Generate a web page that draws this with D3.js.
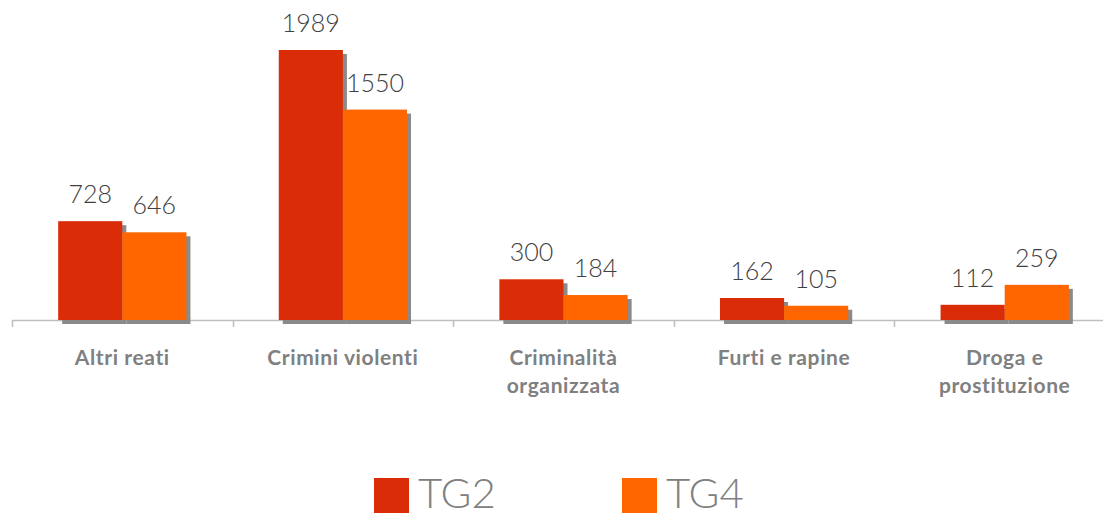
<!DOCTYPE html>
<html>
<head>
<meta charset="utf-8">
<title>TG2 vs TG4</title>
<style>
  body { margin: 0; background: #fff; }
  svg { display: block; }
  .value { font-family: "Lato", "Open Sans", sans-serif; font-weight: 300; fill: #404040; }
  .cat { font-family: "Lato", "Open Sans", sans-serif; font-weight: 700; fill: #808080; letter-spacing: 0.6px; }
  .legend text { font-family: "Lato", "Open Sans", sans-serif; font-weight: 300; fill: #808080; }
</style>
</head>
<body>
<svg width="1103" height="517"></svg>
<script src="https://d3js.org/d3.v7.min.js"></script>
<script>
// categories and series
const categories = [
  ["Altri reati"],
  ["Crimini violenti"],
  ["Criminalità", "organizzata"],
  ["Furti e rapine"],
  ["Droga e", "prostituzione"]
];
const seriesNames = ["TG2", "TG4"];
const tg2 = [728, 1989, 300, 162, 112];
const tg4 = [646, 1550, 184, 105, 259];
const colors = ["#DA2D07", "#FF6600"];

const svg = d3.select('svg');
const baseY = 320;

const x = d3.scaleBand()
  .domain(d3.range(categories.length))
  .range([12, 1115])
  .paddingInner(0)
  .paddingOuter(0);

const x1 = d3.scaleBand()
  .domain(seriesNames)
  .range([0, x.bandwidth()])
  .paddingInner(0)
  .paddingOuter(0.72);

const y = d3.scaleLinear()
  .domain([0, 1989])
  .range([baseY, 50]);

const rows = categories.map((c, i) => ({ i, vals: [tg2[i], tg4[i]] }));

// axis line and ticks
const axis = svg.append('g');
axis.append('line')
  .attr('x1', 12).attr('x2', 1103)
  .attr('y1', baseY + 0.5).attr('y2', baseY + 0.5)
  .attr('stroke', '#bfbfbf').attr('stroke-width', 1.5);
d3.range(categories.length + 1).forEach(i => {
  const tx = Math.round(12 + i * x.bandwidth()) + 0.5;
  axis.append('line')
    .attr('x1', tx).attr('x2', tx)
    .attr('y1', baseY).attr('y2', baseY + 7)
    .attr('stroke', '#bfbfbf').attr('stroke-width', 1.5);
});

const groups = svg.selectAll('g.cat-group')
  .data(rows)
  .join('g')
  .attr('class', 'cat-group')
  .attr('transform', d => `translate(${x(d.i)},0)`);

const bars = groups.selectAll('g.bar')
  .data(d => d.vals.map((v, k) => ({ v, k, name: seriesNames[k] })))
  .join('g')
  .attr('class', 'bar');

// shadows first
bars.append('rect')
  .attr('x', d => x1(d.name) + 4)
  .attr('y', d => y(d.v) + 4)
  .attr('width', x1.bandwidth())
  .attr('height', d => baseY - y(d.v))
  .attr('fill', '#8a8a8a');

bars.append('rect')
  .attr('x', d => x1(d.name))
  .attr('y', d => y(d.v))
  .attr('width', x1.bandwidth())
  .attr('height', d => baseY - y(d.v))
  .attr('fill', d => colors[d.k]);

// value labels
bars.append('text')
  .attr('class', 'value')
  .attr('x', d => x1(d.name) + x1.bandwidth() / 2)
  .attr('y', d => y(d.v) - 18)
  .attr('text-anchor', 'middle')
  .attr('font-size', 25)
  .text(d => d.v);

// category labels
groups.append('text')
  .attr('class', 'cat')
  .attr('text-anchor', 'middle')
  .attr('font-size', 21)
  .selectAll('tspan')
  .data((d) => categories[d.i])
  .join('tspan')
  .attr('x', x.bandwidth() / 2)
  .attr('y', (d, k) => 365 + k * 28)
  .text(d => d);

// legend
const legendX = [374, 622];
const legend = svg.append('g').attr('class', 'legend');
seriesNames.forEach((s, k) => {
  legend.append('rect')
    .attr('x', legendX[k]).attr('y', 478)
    .attr('width', 35).attr('height', 35)
    .attr('fill', colors[k]);
  legend.append('text')
    .attr('x', legendX[k] + 44).attr('y', 508)
    .attr('font-size', 42)
    .text(s);
});
</script>
</body>
</html>
